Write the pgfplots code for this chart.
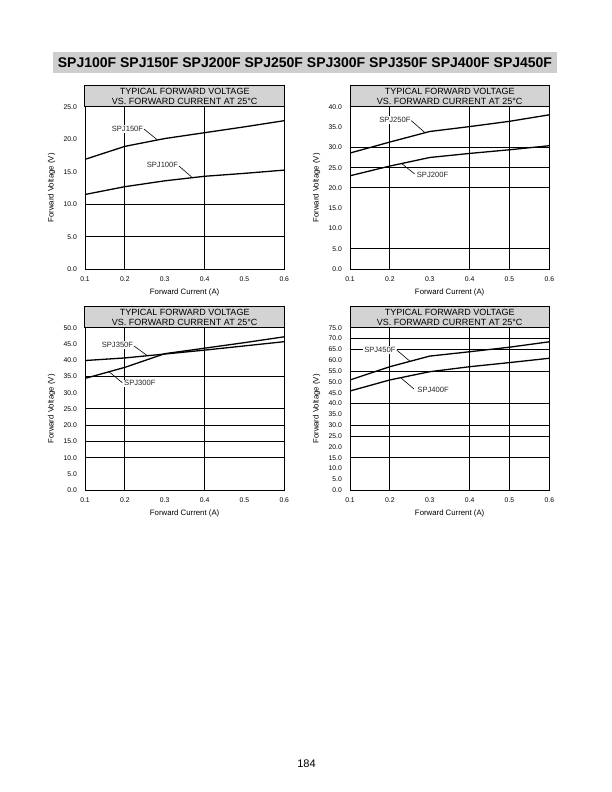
\documentclass[border=0pt]{standalone}
\usepackage{pgfplots}
\pgfplotsset{compat=1.18}
\usepackage{fontspec}
\setmainfont{Liberation Sans}
\definecolor{boxgray}{RGB}{211,211,211}
\definecolor{bargray}{RGB}{206,206,206}

% common look of the four panels
\pgfplotsset{
  fv/.style={
    scale only axis, width=199.3bp, height=162.6bp,
    xmin=0.1, xmax=0.6, ymin=0,
    xtick={0.1,0.2,0.3,0.4,0.5,0.6},
    major tick length=0pt,
    axis line style={line width=1bp},
    tick label style={font=\fontsize{6.8bp}{7.5bp}\selectfont,
      /pgf/number format/fixed, /pgf/number format/fixed zerofill,
      /pgf/number format/precision=1, /pgf/number format/assume math mode=true},
    xticklabel style={inner sep=0pt, anchor=north, yshift=-7.5bp},
    yticklabel style={inner sep=0pt, anchor=east, xshift=-8bp},
    extra tick style={grid=major},
    major grid style={line width=1bp, black},
    extra x tick labels={}, extra y tick labels={},
    xlabel={Forward Current (A)}, ylabel={Forward Voltage (V)},
    label style={font=\fontsize{7.8bp}{9bp}\selectfont},
    xlabel style={at={(axis description cs:0.5,-0.1396)}, anchor=center},
    ylabel style={at={(axis description cs:-0.168,0.5)}, anchor=center},
    title={TYPICAL FORWARD VOLTAGE\\VS. FORWARD CURRENT AT 25°C},
    every axis title shift=0pt,
    title style={at={(axis description cs:0.5,1)}, anchor=south, draw=black,
      line width=1bp, fill=boxgray, minimum width=199.3bp, minimum height=20.7bp,
      inner sep=0pt, outer sep=0pt, align=center, font=\fontsize{9bp}{9.5bp}\selectfont},
    cycle list={black,line width=1.3bp,mark=none\\},
  },
}

\begin{document}
\begin{tikzpicture}[x=1bp, y=1bp,
  lbl/.style={font=\fontsize{7.6bp}{8bp}\selectfont, text=black!85, fill=white,
    inner xsep=1.5bp, inner ysep=1bp},
  lblE/.style={lbl, anchor=east, xshift=1.5bp},
  lblW/.style={lbl, anchor=west, xshift=-1.5bp},
  leader/.style={line width=0.6bp, black}]
\path[use as bounding box, fill=white] (0,0) rectangle (612,792);

\fill[bargray] (53,719) rectangle (557,740);
\node[font=\bfseries\fontsize{14bp}{16bp}\selectfont] at (305,729.5)
  {SPJ100F SPJ150F SPJ200F SPJ250F SPJ300F SPJ350F SPJ400F SPJ450F};

% top left
\begin{axis}[fv, at={(85bp,522.7bp)}, anchor=south west,
  ymax=25, ytick={0,5,10,15,20,25},
  extra x ticks={0.2,0.4}, extra y ticks={5,10}]
\addplot coordinates {(0.1,16.9)(0.2,18.9)(0.3,20.1)(0.4,21.0)(0.5,21.9)(0.6,22.85)};
\addplot coordinates {(0.1,11.5)(0.2,12.7)(0.3,13.6)(0.4,14.3)(0.5,14.75)(0.6,15.25)};
\coordinate (t1) at (axis cs:0.2463,21.57);
\coordinate (s1) at (axis cs:0.248,21.57);
\coordinate (e1) at (axis cs:0.2814,19.9);
\coordinate (t2) at (axis cs:0.334,16.04);
\coordinate (s2) at (axis cs:0.3358,15.88);
\coordinate (e2) at (axis cs:0.369,14.1);
\end{axis}
\node[lblE] at (t1) {SPJ150F};
\draw[leader] (s1) -- (e1);
\node[lblE] at (t2) {SPJ100F};
\draw[leader] (s2) -- (e2);

% top right
\begin{axis}[fv, at={(350bp,522.7bp)}, anchor=south west,
  ymax=40, ytick={0,5,10,15,20,25,30,35,40},
  extra x ticks={0.2,0.4,0.5}, extra y ticks={5,20,25,30}]
\addplot coordinates {(0.1,28.6)(0.2,31.3)(0.3,33.9)(0.4,35.1)(0.5,36.4)(0.6,38.0)};
\addplot coordinates {(0.1,23.0)(0.2,25.4)(0.3,27.5)(0.4,28.5)(0.5,29.4)(0.6,30.4)};
\coordinate (t3) at (axis cs:0.2523,36.73);
\coordinate (s3) at (axis cs:0.2538,36.56);
\coordinate (e3) at (axis cs:0.2882,33.6);
\coordinate (t4) at (axis cs:0.2673,23.2);
\coordinate (s4) at (axis cs:0.2297,26.0);
\coordinate (e4) at (axis cs:0.2623,23.44);
\end{axis}
\node[lblE] at (t3) {SPJ250F};
\draw[leader] (s3) -- (e3);
\node[lblW] at (t4) {SPJ200F};
\draw[leader] (s4) -- (e4);

% bottom left
\begin{axis}[fv, at={(85bp,301.7bp)}, anchor=south west,
  ymax=50, ytick={0,5,10,15,20,25,30,35,40,45,50},
  extra x ticks={0.2,0.4}, extra y ticks={10,15,20,25,35}]
\addplot coordinates {(0.1,39.9)(0.2,40.7)(0.3,41.9)(0.4,43.1)(0.5,44.4)(0.6,45.7)};
\addplot coordinates {(0.1,34.4)(0.2,37.8)(0.3,42.0)(0.4,43.7)(0.5,45.4)(0.6,47.2)};
\coordinate (t5) at (axis cs:0.2212,44.68);
\coordinate (s5) at (axis cs:0.2229,44.37);
\coordinate (e5) at (axis cs:0.2563,41.4);
\coordinate (t6) at (axis cs:0.1978,32.9);
\coordinate (s6) at (axis cs:0.1602,36.45);
\coordinate (e6) at (axis cs:0.1936,33.09);
\end{axis}
\node[lblE] at (t5) {SPJ350F};
\draw[leader] (s5) -- (e5);
\node[lblW] at (t6) {SPJ300F};
\draw[leader] (s6) -- (e6);

% bottom right
\begin{axis}[fv, at={(350bp,301.7bp)}, anchor=south west,
  ymax=75, ytick={0,5,10,15,20,25,30,35,40,45,50,55,60,65,70,75},
  extra x ticks={0.2,0.4,0.5}, extra y ticks={15,25,30,40,55,65,70}]
\addplot coordinates {(0.1,50.9)(0.2,57.0)(0.3,61.9)(0.4,63.9)(0.5,66.0)(0.6,68.5)};
\addplot coordinates {(0.1,45.8)(0.2,50.9)(0.3,54.7)(0.4,57.0)(0.5,58.9)(0.6,60.9)};
\coordinate (t7) at (axis cs:0.2147,64.7);
\coordinate (s7) at (axis cs:0.2172,64.7);
\coordinate (e7) at (axis cs:0.2505,59.5);
\coordinate (t8) at (axis cs:0.2688,46.26);
\coordinate (s8) at (axis cs:0.2272,51.93);
\coordinate (e8) at (axis cs:0.2606,46.7);
\end{axis}
\node[lblE] at (t7) {SPJ450F};
\draw[leader] (s7) -- (e7);
\node[lblW] at (t8) {SPJ400F};
\draw[leader] (s8) -- (e8);

\node[font=\fontsize{11bp}{13bp}\selectfont] at (306.5,28.5) {184};
\end{tikzpicture}
\end{document}
